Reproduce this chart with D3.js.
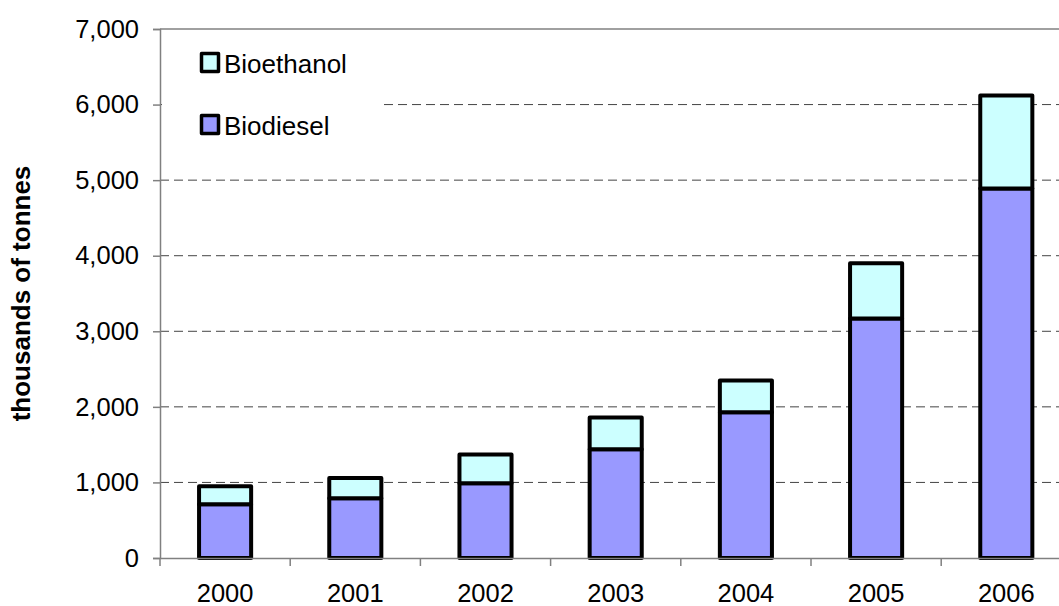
<!DOCTYPE html>
<html>
<head>
<meta charset="utf-8">
<script src="https://cdn.jsdelivr.net/npm/d3@7"></script>
<style>
  body { margin: 0; background: #fff; }
  text { font-family: Arial, "Liberation Sans", sans-serif; }
</style>
</head>
<body>
<script>
// data (thousands of tonnes)
const years = ['2000', '2001', '2002', '2003', '2004', '2005', '2006'];
const biodiesel = [710, 790, 990, 1440, 1930, 3170, 4890];
const bioethanol = [240, 270, 380, 420, 420, 730, 1230];
const yTicks = [0, 1000, 2000, 3000, 4000, 5000, 6000, 7000];

const width = 1059;
const height = 606;
const margin = { top: 29, left: 160, bottom: 48 };
const step = 130.2;
const fontSize = 25.5;
const fontFamily = 'Arial, "Liberation Sans", sans-serif';

const svg = d3.select('body').append('svg')
    .attr('width', width).attr('height', height);

const x = d3.scaleBand()
    .domain(years)
    .range([margin.left, margin.left + step * years.length])
    .paddingInner(0.6).paddingOuter(0.3);

const y = d3.scaleLinear()
    .domain([0, 7000])
    .range([height - margin.bottom, margin.top]);

// gridlines
svg.append('g').selectAll('line')
    .data(yTicks.filter(d => d > 0 && d < 7000))
    .enter().append('line')
    .attr('x1', margin.left).attr('x2', width)
    .attr('y1', d => y(d)).attr('y2', d => y(d))
    .attr('stroke', '#444').attr('stroke-width', 1)
    .attr('stroke-dasharray', '9,5');

// top border line at 7000
svg.append('line')
    .attr('x1', margin.left).attr('x2', width)
    .attr('y1', y(7000)).attr('y2', y(7000))
    .attr('stroke', '#808080').attr('stroke-width', 1.5);

// legend background hides part of the 6000 gridline
svg.append('rect')
    .attr('x', margin.left + 2).attr('y', y(7000) + 2)
    .attr('width', 220).attr('height', 118)
    .attr('fill', '#fff');

// stacked bars
const stackData = years.map((yr, i) => ({ year: yr, biodiesel: biodiesel[i], bioethanol: bioethanol[i] }));
const series = d3.stack().keys(['biodiesel', 'bioethanol'])(stackData);
const colors = { biodiesel: '#9999FF', bioethanol: '#CCFFFF' };

svg.append('g').selectAll('g')
    .data(series)
    .enter().append('g')
    .attr('fill', d => colors[d.key])
    .selectAll('rect')
    .data(d => d)
    .enter().append('rect')
    .attr('x', d => x(d.data.year))
    .attr('y', d => y(d[1]))
    .attr('width', x.bandwidth())
    .attr('height', d => y(d[0]) - y(d[1]))
    .attr('stroke', '#000')
    .attr('stroke-width', 4)
    .attr('stroke-linejoin', 'round');

// y axis
const yAxis = d3.axisLeft(y)
    .tickValues(yTicks)
    .tickSize(7)
    .tickPadding(14)
    .tickFormat(d3.format(','));
const gy = svg.append('g')
    .attr('transform', `translate(${margin.left},0)`)
    .call(yAxis);
gy.select('.domain').attr('stroke', '#808080').attr('stroke-width', 1.5);
gy.selectAll('.tick line').attr('stroke', '#808080').attr('stroke-width', 1.5);
gy.selectAll('.tick text').attr('font-size', fontSize).attr('fill', '#000')
    .attr('font-family', fontFamily);

// x axis
const xAxis = d3.axisBottom(x).tickSize(0).tickPadding(26);
const gx = svg.append('g')
    .attr('transform', `translate(0,${y(0)})`)
    .call(xAxis);
gx.select('.domain').attr('stroke', '#808080').attr('stroke-width', 1.5);
gx.selectAll('.tick text').attr('font-size', fontSize).attr('fill', '#000')
    .attr('font-family', fontFamily);

// category boundary ticks
svg.append('g').selectAll('line')
    .data(d3.range(years.length + 1))
    .enter().append('line')
    .attr('x1', i => margin.left + i * step)
    .attr('x2', i => margin.left + i * step)
    .attr('y1', y(0)).attr('y2', y(0) + 8)
    .attr('stroke', '#808080').attr('stroke-width', 1.5);

// y axis title
svg.append('text')
    .attr('transform', `translate(30,${(y(0) + y(7000)) / 2}) rotate(-90)`)
    .attr('text-anchor', 'middle')
    .attr('font-size', 26)
    .attr('font-weight', 'bold')
    .text('thousands of tonnes');

// legend
const legendItems = [
    { label: 'Bioethanol', color: colors.bioethanol, yPos: 73 },
    { label: 'Biodiesel', color: colors.biodiesel, yPos: 135 }
];
const legend = svg.append('g').selectAll('g')
    .data(legendItems)
    .enter().append('g')
    .attr('transform', d => `translate(200,${d.yPos})`);
legend.append('rect')
    .attr('x', 1.5).attr('y', -19.5)
    .attr('width', 17).attr('height', 18)
    .attr('fill', d => d.color)
    .attr('stroke', '#000').attr('stroke-width', 3.5)
    .attr('stroke-linejoin', 'round');
legend.append('text')
    .attr('x', 24).attr('y', 0)
    .attr('font-size', 26)
    .text(d => d.label);
</script>
</body>
</html>
